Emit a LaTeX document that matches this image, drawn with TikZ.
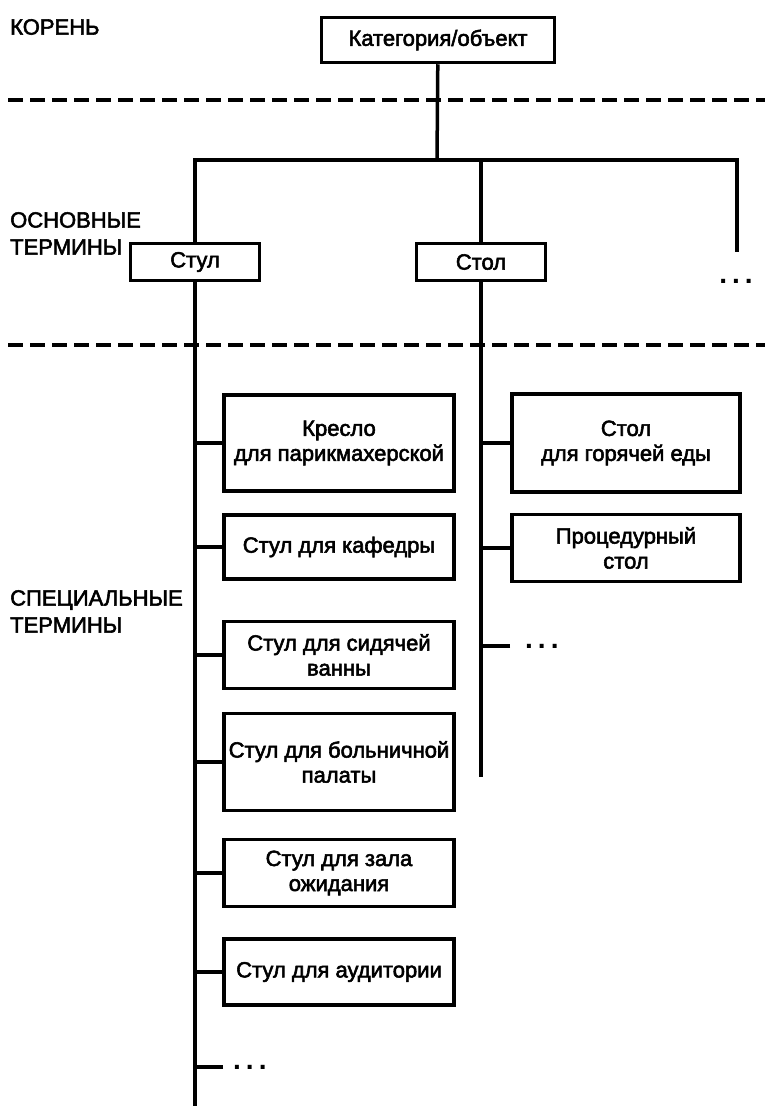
\documentclass[tikz,border=0pt]{standalone}
\usepackage{fontspec}
\setmainfont{Liberation Sans}[UprightFeatures={FakeBold=2.5}]
\usetikzlibrary{positioning}
\begin{document}
\begin{tikzpicture}[x=1pt,y=-1pt,
  box/.style={draw,line width=3.5pt,fill=white,align=center,inner sep=2pt,font=\fontsize{22}{25}\selectfont},
  term/.style={box,minimum width=230pt},
  head/.style={anchor=north west,align=left,inner sep=0pt,font=\fontsize{22}{27}\selectfont},
  dots/.style={inner sep=0pt,font=\fontsize{28}{28}\selectfont\bfseries},
  line/.style={line width=3.5pt},
  sep/.style={line width=3.5pt,dash pattern=on 15pt off 7pt}]

    \useasboundingbox (0,0) rectangle (765,1106);

    \draw[sep] (8,100) -- (765,100);
    \draw[sep] (8,345) -- (765,345);

    \node[head] (rootlabel) at (10,19) {КОРЕНЬ};
    \node[head] (baselabel) at (10,212) {ОСНОВНЫЕ\\ТЕРМИНЫ};
    \node[head] (speclabel) at (10,590) {СПЕЦИАЛЬНЫЕ\\ТЕРМИНЫ};

    \node[box,minimum width=233pt,minimum height=45pt] (root) at (438,40) {Категория/объект};
    \node[box,minimum width=129pt,minimum height=37pt] (stul) at (195,262) {Стул};
    \node[box,minimum width=129pt,minimum height=37pt] (stol) at (481,262) {Стол};

    \node[term,minimum height=96pt] (kreslo) at (339,443) {Кресло\\для парикмахерской};
    \node[term,minimum height=64pt] (kafedra) at (339,547) {Стул для кафедры};
    \node[term,minimum height=67pt] (vanna) at (339,655) {Стул для сидячей\\ванны};
    \node[term,minimum height=97pt] (palata) at (339,762) {Стул для больничной\\палаты};
    \node[term,minimum height=67pt] (zal) at (339,873) {Стул для зала\\ожидания};
    \node[term,minimum height=66pt] (audit) at (339,972) {Стул для аудитории};

    \node[term,minimum width=228pt,minimum height=98pt] (goryach) at (626,443) {Стол\\для горячей еды};
    \node[term,minimum width=228pt,minimum height=67pt] (proced) at (626,548) {Процедурный\\стол};

    \coordinate (fork) at (437,160);
    \coordinate (stulend) at (195,1106);
    \coordinate (stolend) at (481,777);
    \coordinate (moreend) at (737,252);
    \coordinate (stultick) at (223,1067);
    \coordinate (stoltick) at (510,646);

    \node[dots] (moredots) at (736,281) {.\kern5pt.\kern5pt.};
    \node[dots,right=10pt of stultick] (stuldots) {.\kern5pt.\kern5pt.};
    \node[dots,right=15pt of stoltick] (stoldots) {.\kern5pt.\kern5pt.};

    \draw[line] (root) -- (fork);
    \draw[line] (stul) |- (fork) -| (moreend);
    \draw[line] (stol) -- (stol |- fork);
    \draw[line] (stul) -- (stulend);
    \draw[line] (stol) -- (stolend);

    \foreach \n in {kreslo,kafedra,vanna,palata,zal,audit}
        \draw[line] (\n.west) -- (\n.west -| stulend);
    \foreach \n in {goryach,proced}
        \draw[line] (\n.west) -- (\n.west -| stolend);
    \draw[line] (stultick) -- (stultick -| stulend);
    \draw[line] (stoltick) -- (stoltick -| stolend);
\end{tikzpicture}
\end{document}
